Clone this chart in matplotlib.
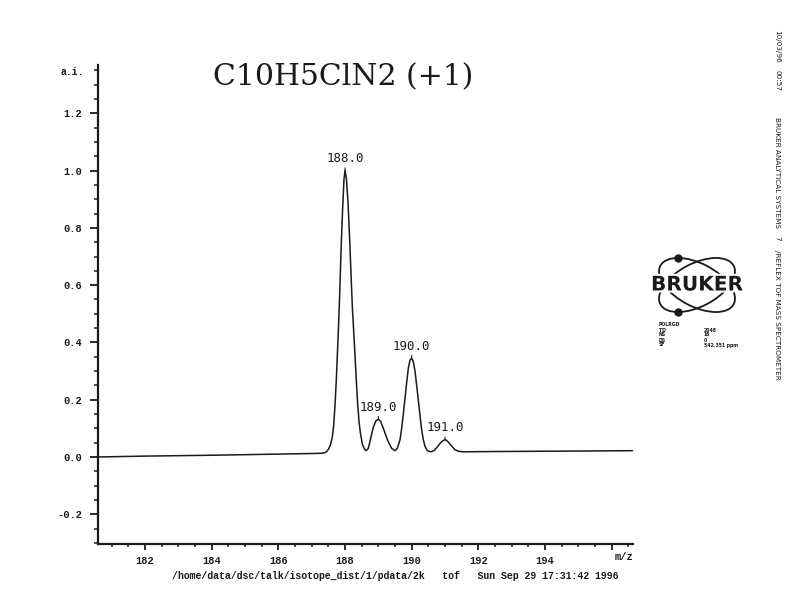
import matplotlib
matplotlib.use("Agg")
import matplotlib.pyplot as plt
from matplotlib.ticker import MultipleLocator, FixedLocator
from matplotlib.patches import Ellipse
import matplotlib.patheffects as pe
import numpy as np

# ---------------- data ----------------
mz = [180.6, 182.0, 184.0, 186.0, 187.0, 187.3, 187.4, 187.46, 187.52, 187.57,
      187.62, 187.66, 187.70, 187.74, 187.77, 187.80, 187.83, 187.86, 187.89,
      187.93, 187.97, 188.00, 188.04, 188.09, 188.14, 188.18, 188.22, 188.26,
      188.30, 188.34, 188.38, 188.42, 188.46, 188.52, 188.58, 188.63, 188.70,
      188.76, 188.84, 188.92, 189.00, 189.07, 189.15, 189.28, 189.40, 189.50,
      189.57, 189.65, 189.70, 189.75, 189.80, 189.85, 189.90, 189.95, 190.00,
      190.05, 190.10, 190.15, 190.20, 190.25, 190.30, 190.35, 190.40, 190.47,
      190.57, 190.67, 190.77, 190.87, 190.95, 191.02, 191.10, 191.20, 191.30,
      191.40, 191.55, 192.5, 194.0, 195.5, 196.64]
intensity = [0.000, 0.003, 0.006, 0.010, 0.012, 0.013, 0.015, 0.020, 0.030, 0.045,
             0.070, 0.110, 0.180, 0.270, 0.355, 0.440, 0.530, 0.640, 0.750,
             0.870, 0.970, 1.000, 0.975, 0.890, 0.760, 0.640, 0.525, 0.440,
             0.355, 0.265, 0.185, 0.125, 0.085, 0.045, 0.028, 0.022, 0.030,
             0.060, 0.100, 0.125, 0.132, 0.124, 0.100, 0.058, 0.030, 0.022,
             0.030, 0.060, 0.100, 0.150, 0.205, 0.260, 0.310, 0.338, 0.345,
             0.332, 0.300, 0.250, 0.198, 0.145, 0.095, 0.060, 0.037, 0.022,
             0.018, 0.022, 0.035, 0.050, 0.058, 0.060, 0.052, 0.038, 0.025,
             0.020, 0.018, 0.019, 0.020, 0.021, 0.022]

peak_mz = [188.0, 189.0, 190.0, 191.0]
peak_int = [1.000, 0.132, 0.345, 0.060]
peak_labels = ["188.0", "189.0", "190.0", "191.0"]

xtick_vals = [182, 184, 186, 188, 190, 192, 194, 196]
xtick_labels = ["182", "184", "186", "188", "190", "192", "194", ""]
ytick_vals = [-0.2, 0.0, 0.2, 0.4, 0.6, 0.8, 1.0, 1.2]
ytick_labels = ["-0.2", "0.0", "0.2", "0.4", "0.6", "0.8", "1.0", "1.2"]

title = "C10H5ClN2 (+1)"
footer = "/home/data/dsc/talk/isotope_dist/1/pdata/2k   tof   Sun Sep 29 17:31:42 1996"
side_texts = ["10/03/96", "00:57", "BRUKER ANALYTICAL SYSTEMS", "7", "/REFLEX TOF MASS SPECTROMETER"]
param_names = ["TD", "NS", "DS", "SF"]
param_values = ["2048", "16", "0", "542.351 ppm"]

# ---------------- figure ----------------
W, H = 792, 611
fig = plt.figure(figsize=(W / 100, H / 100), dpi=100)
fig.patch.set_facecolor("white")


def fx(px):
    return px / W


def fy(py):
    return 1 - py / H


mono = "Liberation Mono"
ink = "#1a1a1a"

ax = fig.add_axes([fx(98), fy(544), fx(633) - fx(98), fy(65) - fy(544)])
ax.plot(mz, intensity, color=ink, lw=1.1, solid_joinstyle="round")
ax.set_xlim(180.59, 196.64)
ax.set_ylim(-0.304, 1.369)

for s in ("top", "right"):
    ax.spines[s].set_visible(False)
for s in ("left", "bottom"):
    ax.spines[s].set_linewidth(1.6)
    ax.spines[s].set_color(ink)

ax.xaxis.set_major_locator(FixedLocator(xtick_vals))
ax.set_xticklabels(xtick_labels)
ax.xaxis.set_minor_locator(MultipleLocator(0.5))
ax.yaxis.set_major_locator(FixedLocator(ytick_vals))
ax.set_yticklabels(ytick_labels)
ax.yaxis.set_minor_locator(MultipleLocator(0.05))

ax.tick_params(axis="x", which="major", direction="out", length=4, width=1.3,
               pad=5, labelsize=7.5, colors=ink)
ax.tick_params(axis="x", which="minor", direction="out", length=2.5, width=1.1, colors=ink)
ax.tick_params(axis="y", which="major", direction="out", length=5.5, width=1.3,
               pad=6, labelsize=7.5, colors=ink)
ax.tick_params(axis="y", which="minor", direction="out", length=3, width=1.1, colors=ink)
for lab in ax.get_xticklabels() + ax.get_yticklabels():
    lab.set_family(mono)
    lab.set_fontweight("bold")

# peak labels with short marker lines
for x, y, lab in zip(peak_mz, peak_int, peak_labels):
    ax.annotate(lab, xy=(x, y), xytext=(0, 4), textcoords="offset points",
                ha="center", va="bottom", fontsize=9, family="DejaVu Sans Mono",
                color=ink,
                arrowprops=dict(arrowstyle="-", lw=0.8, color=ink,
                                shrinkA=0, shrinkB=0))

# texts around
fig.text(fx(343), fy(85), title, ha="center", va="baseline",
         family="DejaVu Serif", fontsize=21.5, color=ink)
fig.text(fx(84), fy(72), "a.i.", ha="right", va="center", family=mono,
         fontweight="bold", fontsize=7, color=ink)
fig.text(fx(633), fy(557), "m/z", ha="right", va="center", family=mono,
         fontweight="bold", fontsize=7.5, color=ink)
fig.text(fx(172), fy(576), footer, ha="left", va="center", family=mono,
         fontweight="bold", fontsize=7.1, color=ink)

side_tops = [30, 70, 117, 236, 250]
for t, top in zip(side_texts, side_tops):
    fig.text(fx(777), fy(top), t, rotation=-90, ha="center", va="top",
             family="DejaVu Sans", fontsize=5.2, color=ink)

# BRUKER logo
lax = fig.add_axes([fx(650), fy(317), fx(745) - fx(650), fy(253) - fy(317)])
lax.set_xlim(0, 95)
lax.set_ylim(0, 64)
lax.set_aspect("auto")
lax.axis("off")
cx, cy = 47, 32
a, b, th = 41.4, 21.5, 27.6
for ang in (th, -th):
    lax.add_patch(Ellipse((cx, cy), 2 * a, 2 * b, angle=ang, fill=False,
                          lw=1.3, ec=ink))
t = np.linspace(0, 2 * np.pi, 721)
for ang, pick in ((-th, np.argmax), (th, np.argmin)):
    r = np.deg2rad(ang)
    ex = cx + a * np.cos(t) * np.cos(r) - b * np.sin(t) * np.sin(r)
    ey = cy + a * np.cos(t) * np.sin(r) + b * np.sin(t) * np.cos(r)
    i = pick(ey)
    lax.plot([ex[i]], [ey[i]], "o", ms=5, color=ink)
lax.text(cx, cy, "BRUKER", ha="center", va="center", family="DejaVu Sans",
         fontweight="bold", fontsize=14.5, color=ink,
         path_effects=[pe.withStroke(linewidth=3, foreground="white")])

# parameter block
fig.text(fx(659), fy(325), "POLRGD", ha="left", va="center", family="DejaVu Sans",
         fontweight="bold", fontsize=3.3, color=ink)
for k, (n, v) in enumerate(zip(param_names, param_values)):
    yy = 330 + 5 * k
    fig.text(fx(659), fy(yy), n, ha="left", va="center", family="DejaVu Sans",
             fontweight="bold", fontsize=3.3, color=ink)
    fig.text(fx(704), fy(yy), v, ha="left", va="center", family="DejaVu Sans",
             fontweight="bold", fontsize=3.3, color=ink)

fig.savefig("out.png", dpi=100, facecolor="white")
